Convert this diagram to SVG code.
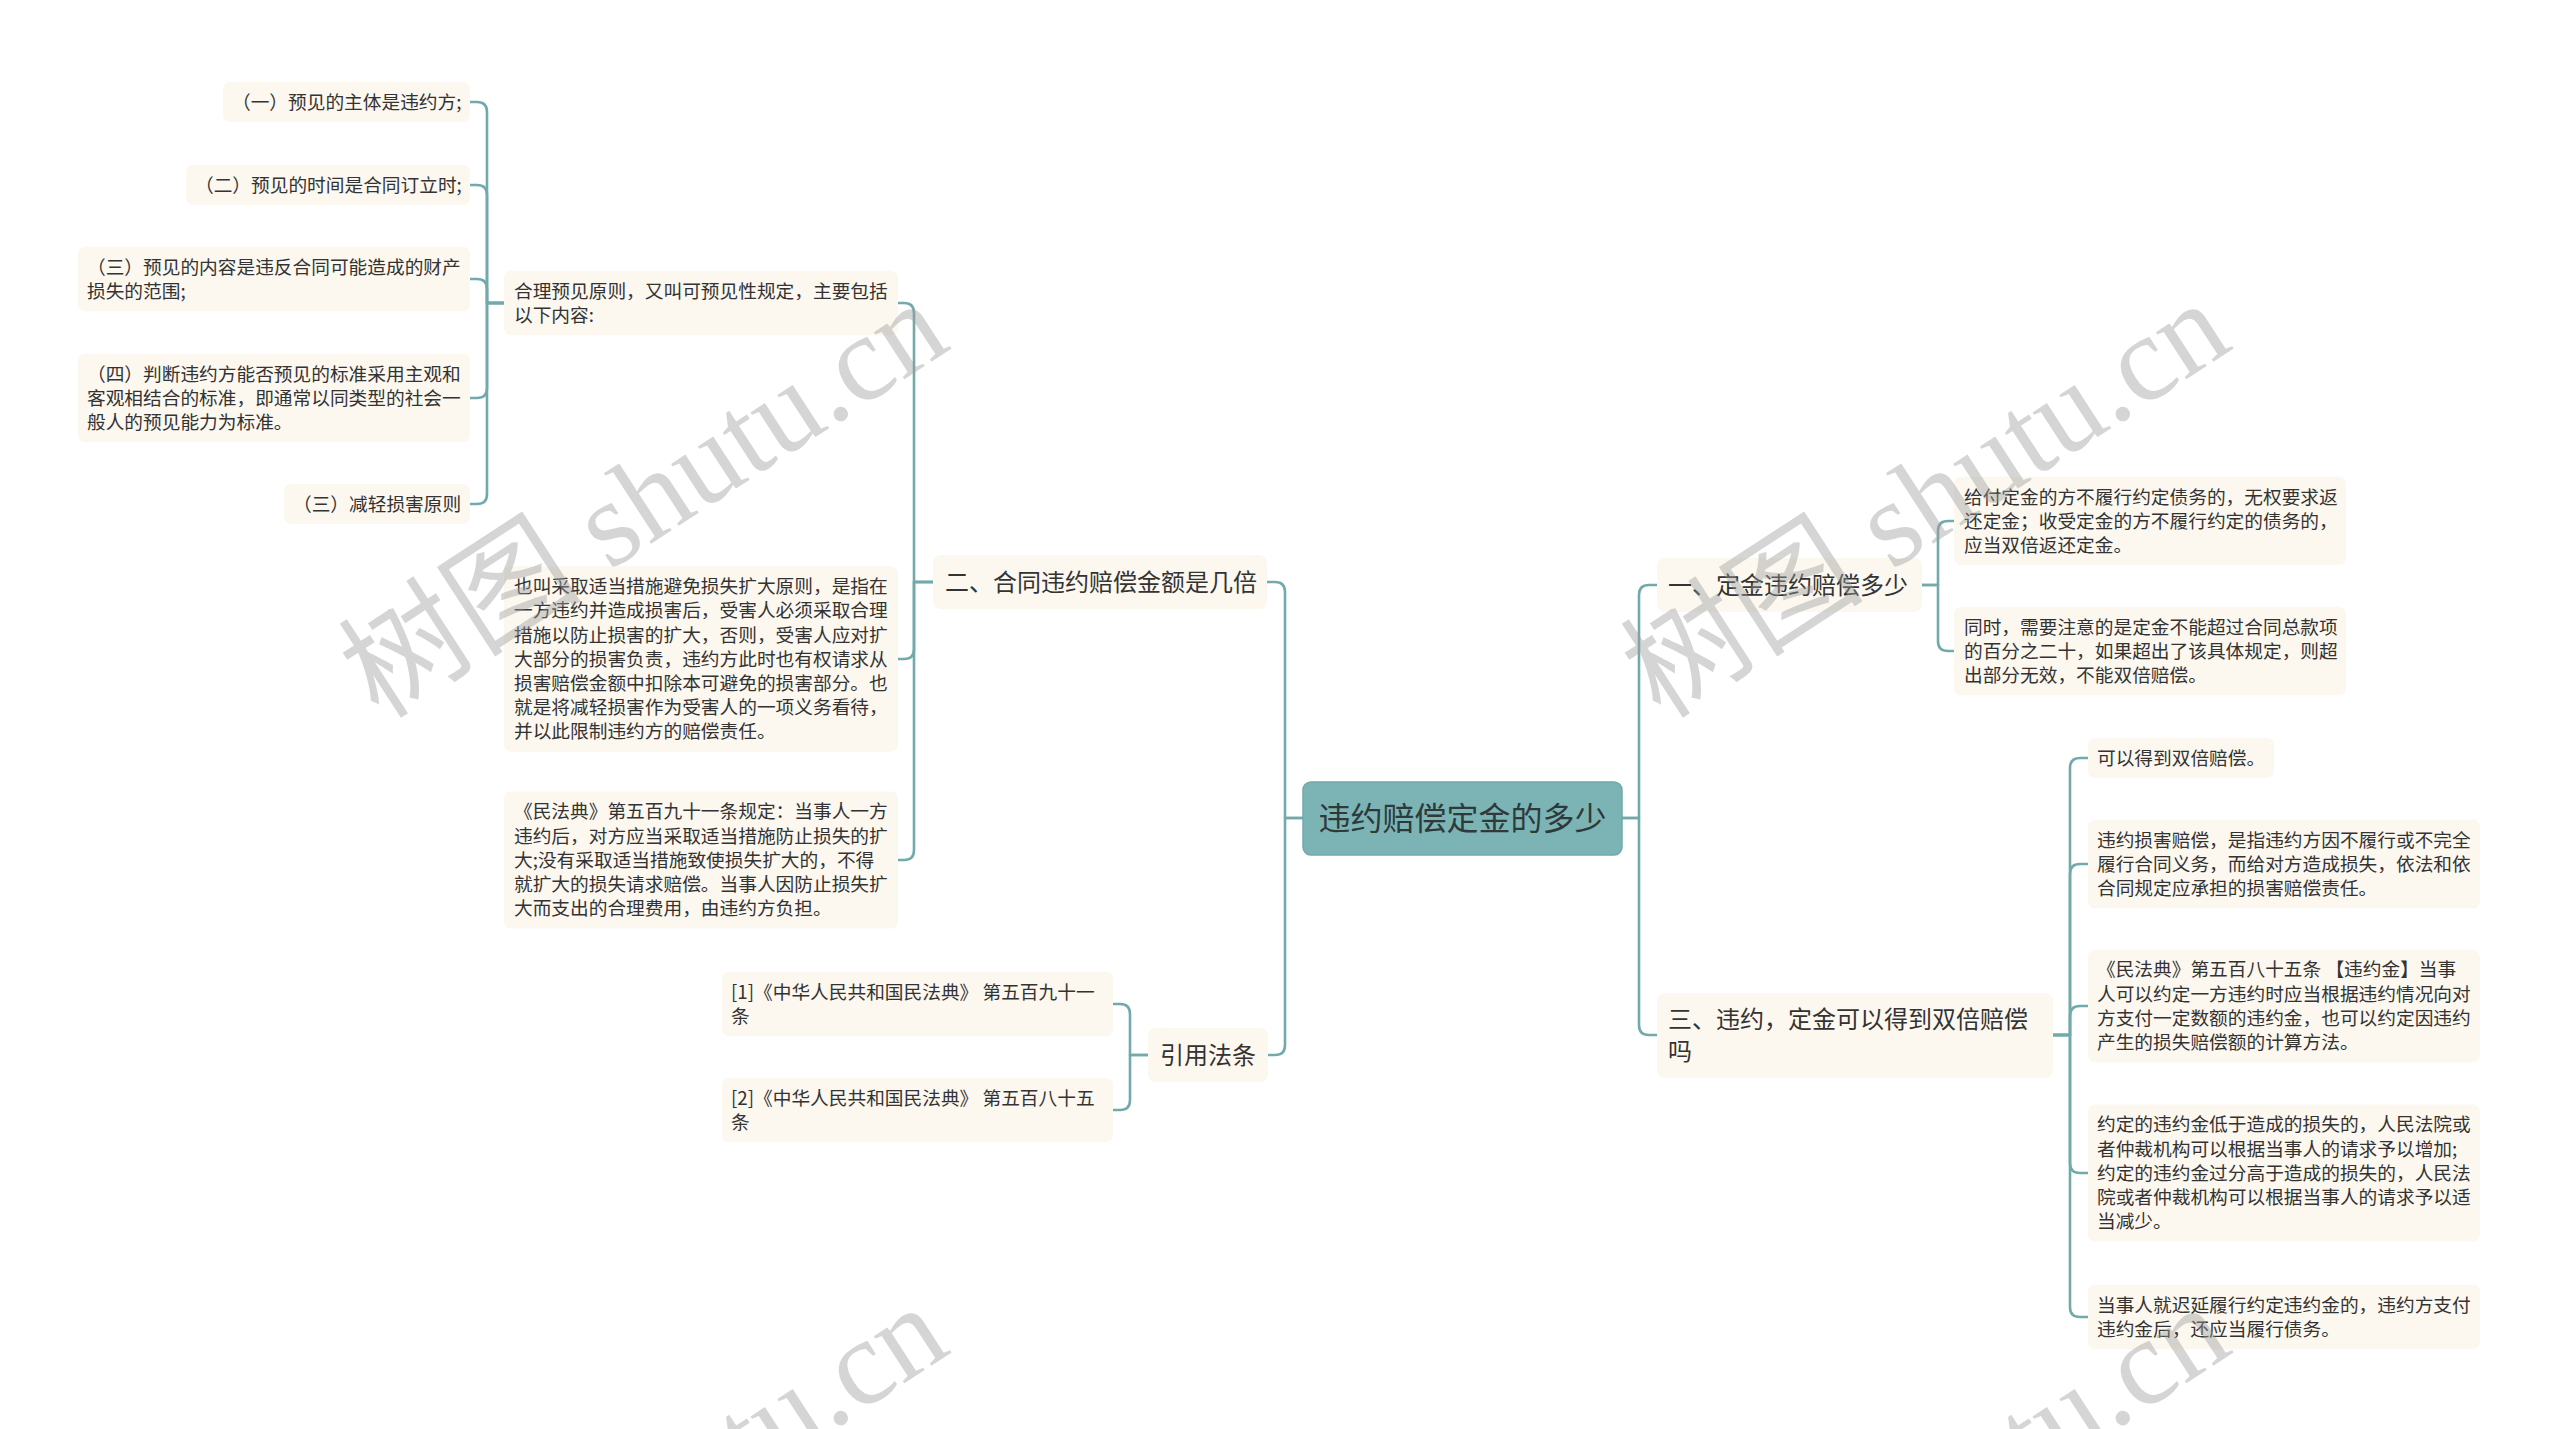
<svg xmlns="http://www.w3.org/2000/svg" width="2560" height="1429" viewBox="0 0 2560 1429">
<defs>
<style>
.bg{fill:#ffffff}
.box{fill:#fcf8ef}
.rootbox{fill:#7cb4b6;stroke:#6fa9ab;stroke-width:1.5}
.t{font-family:"Noto Sans CJK SC","Noto Sans",sans-serif;font-size:18.7px;fill:#333333}
.l1{font-family:"Noto Sans CJK SC","Noto Sans",sans-serif;font-size:24px;fill:#333333}
.rt{font-family:"Noto Sans CJK SC","Noto Sans",sans-serif;font-size:32px;fill:#2e3a3a}
.c{fill:none;stroke:#72aaac;stroke-width:2.6;stroke-linecap:round;stroke-linejoin:round}
.wm{font-family:"Liberation Serif","Noto Sans CJK SC",serif;font-size:122px;fill:#9a9a9a;fill-opacity:0.42}
</style>
</defs>
<rect class="bg" x="0" y="0" width="2560" height="1429"/>

<g id="connectors">
<path class="c" d="M1303,818 H1285 V592 Q1285,582 1275,582 H1267"/>
<path class="c" d="M1303,818 H1285 V1045 Q1285,1055 1275,1055 H1268"/>
<path class="c" d="M1622,818 H1639 V595 Q1639,585 1649,585 H1657"/>
<path class="c" d="M1622,818 H1639 V1025 Q1639,1035 1649,1035 H1657"/>
<path class="c" d="M933,582 H914 V313 Q914,303 904,303 H898"/>
<path class="c" d="M933,582 H914 V649 Q914,659 904,659 H898"/>
<path class="c" d="M933,582 H914 V850 Q914,860 904,860 H898"/>
<path class="c" d="M504,303 H487 V112 Q487,102 477,102 H470"/>
<path class="c" d="M504,303 H487 V195 Q487,185 477,185 H470"/>
<path class="c" d="M504,303 H487 V289 Q487,279 477,279 H470"/>
<path class="c" d="M504,303 H487 V388 Q487,398 477,398 H470"/>
<path class="c" d="M504,303 H487 V494 Q487,504 477,504 H470"/>
<path class="c" d="M1148,1055 H1130 V1014 Q1130,1004 1120,1004 H1113"/>
<path class="c" d="M1148,1055 H1130 V1100 Q1130,1110 1120,1110 H1113"/>
<path class="c" d="M1922,585 H1938 V531 Q1938,521 1948,521 H1954"/>
<path class="c" d="M1922,585 H1938 V641 Q1938,651 1948,651 H1954"/>
<path class="c" d="M2053,1035 H2070 V768 Q2070,758 2080,758 H2088"/>
<path class="c" d="M2053,1035 H2070 V874 Q2070,864 2080,864 H2088"/>
<path class="c" d="M2053,1035 H2070 V1016 Q2070,1006 2080,1006 H2088"/>
<path class="c" d="M2053,1035 H2070 V1163 Q2070,1173 2080,1173 H2088"/>
<path class="c" d="M2053,1035 H2070 V1307 Q2070,1317 2080,1317 H2088"/>
</g>

<g id="root">
<rect class="rootbox" x="1303" y="782" width="319" height="73" rx="8"/>
<text class="rt" x="1462.5" y="829.5" text-anchor="middle">违约赔偿定金的多少</text>
</g>

<g id="n-er">
<rect class="box" x="933" y="555" width="334" height="54" rx="8"/>
<text class="l1" x="945" y="590.6">二、合同违约赔偿金额是几倍</text>
</g>
<g id="n-yinyong">
<rect class="box" x="1148" y="1028" width="120" height="54" rx="8"/>
<text class="l1" x="1160" y="1063.6">引用法条</text>
</g>
<g id="n-yi">
<rect class="box" x="1657" y="558" width="265" height="54" rx="8"/>
<text class="l1" x="1668" y="593.6">一、定金违约赔偿多少</text>
</g>
<g id="n-san">
<rect class="box" x="1657" y="993" width="396" height="85" rx="8"/>
<text class="l1"><tspan x="1668" y="1028">三、违约，定金可以得到双倍赔偿</tspan><tspan x="1668" y="1060">吗</tspan></text>
</g>

<g id="n-a1">
<rect class="box" x="223" y="81.9" width="247" height="40.2" rx="7"/>
<text class="t" x="232" y="108.7">（一）预见的主体是违约方;</text>
</g>
<g id="n-a2">
<rect class="box" x="186" y="164.9" width="284" height="40.2" rx="7"/>
<text class="t" x="195" y="191.7">（二）预见的时间是合同订立时;</text>
</g>
<g id="n-a3">
<rect class="box" x="78" y="246.8" width="392" height="64.4" rx="7"/>
<text class="t"><tspan x="87" y="273.6">（三）预见的内容是违反合同可能造成的财产</tspan><tspan x="87" y="297.8">损失的范围;</tspan></text>
</g>
<g id="n-a4">
<rect class="box" x="78" y="353.7" width="392" height="88.6" rx="7"/>
<text class="t"><tspan x="87" y="380.5">（四）判断违约方能否预见的标准采用主观和</tspan><tspan x="87" y="404.7">客观相结合的标准，即通常以同类型的社会一</tspan><tspan x="87" y="428.9">般人的预见能力为标准。</tspan></text>
</g>
<g id="n-a5">
<rect class="box" x="284" y="483.9" width="186" height="40.2" rx="7"/>
<text class="t" x="293" y="510.7">（三）减轻损害原则</text>
</g>

<g id="n-b1">
<rect class="box" x="504" y="270.8" width="394" height="64.4" rx="7"/>
<text class="t"><tspan x="514" y="297.6">合理预见原则，又叫可预见性规定，主要包括</tspan><tspan x="514" y="321.8">以下内容:</tspan></text>
</g>
<g id="n-b2">
<rect class="box" x="504" y="566.3" width="394" height="185.4" rx="7"/>
<text class="t"><tspan x="514" y="593.1">也叫采取适当措施避免损失扩大原则，是指在</tspan><tspan x="514" y="617.3">一方违约并造成损害后，受害人必须采取合理</tspan><tspan x="514" y="641.5">措施以防止损害的扩大，否则，受害人应对扩</tspan><tspan x="514" y="665.7">大部分的损害负责，违约方此时也有权请求从</tspan><tspan x="514" y="689.9">损害赔偿金额中扣除本可避免的损害部分。也</tspan><tspan x="514" y="714.1">就是将减轻损害作为受害人的一项义务看待，</tspan><tspan x="514" y="738.3">并以此限制违约方的赔偿责任。</tspan></text>
</g>
<g id="n-b3">
<rect class="box" x="504" y="791.5" width="394" height="137" rx="7"/>
<text class="t"><tspan x="514" y="818.3">《民法典》第五百九十一条规定：当事人一方</tspan><tspan x="514" y="842.5">违约后，对方应当采取适当措施防止损失的扩</tspan><tspan x="514" y="866.7">大;没有采取适当措施致使损失扩大的，不得</tspan><tspan x="514" y="890.9">就扩大的损失请求赔偿。当事人因防止损失扩</tspan><tspan x="514" y="915.1">大而支出的合理费用，由违约方负担。</tspan></text>
</g>

<g id="n-c1">
<rect class="box" x="722" y="971.8" width="391" height="64.4" rx="7"/>
<text class="t"><tspan x="731" y="998.6">[1]《中华人民共和国民法典》 第五百九十一</tspan><tspan x="731" y="1022.8">条</tspan></text>
</g>
<g id="n-c2">
<rect class="box" x="722" y="1077.8" width="391" height="64.4" rx="7"/>
<text class="t"><tspan x="731" y="1104.6">[2]《中华人民共和国民法典》 第五百八十五</tspan><tspan x="731" y="1128.8">条</tspan></text>
</g>

<g id="n-e1">
<rect class="box" x="1954" y="476.7" width="392" height="88.6" rx="7"/>
<text class="t"><tspan x="1964" y="503.5">给付定金的方不履行约定债务的，无权要求返</tspan><tspan x="1964" y="527.7">还定金；收受定金的方不履行约定的债务的，</tspan><tspan x="1964" y="551.9">应当双倍返还定金。</tspan></text>
</g>
<g id="n-e2">
<rect class="box" x="1954" y="606.7" width="392" height="88.6" rx="7"/>
<text class="t"><tspan x="1964" y="633.5">同时，需要注意的是定金不能超过合同总款项</tspan><tspan x="1964" y="657.7">的百分之二十，如果超出了该具体规定，则超</tspan><tspan x="1964" y="681.9">出部分无效，不能双倍赔偿。</tspan></text>
</g>

<g id="n-f1">
<rect class="box" x="2088" y="737.9" width="186" height="40.2" rx="7"/>
<text class="t" x="2097" y="764.7">可以得到双倍赔偿。</text>
</g>
<g id="n-f2">
<rect class="box" x="2088" y="819.7" width="392" height="88.6" rx="7"/>
<text class="t"><tspan x="2097" y="846.5">违约损害赔偿，是指违约方因不履行或不完全</tspan><tspan x="2097" y="870.7">履行合同义务，而给对方造成损失，依法和依</tspan><tspan x="2097" y="894.9">合同规定应承担的损害赔偿责任。</tspan></text>
</g>
<g id="n-f3">
<rect class="box" x="2088" y="949.6" width="392" height="112.8" rx="7"/>
<text class="t"><tspan x="2097" y="976.4">《民法典》第五百八十五条 【违约金】当事</tspan><tspan x="2097" y="1000.6">人可以约定一方违约时应当根据违约情况向对</tspan><tspan x="2097" y="1024.8">方支付一定数额的违约金，也可以约定因违约</tspan><tspan x="2097" y="1049">产生的损失赔偿额的计算方法。</tspan></text>
</g>
<g id="n-f4">
<rect class="box" x="2088" y="1104.5" width="392" height="137" rx="7"/>
<text class="t"><tspan x="2097" y="1131.3">约定的违约金低于造成的损失的，人民法院或</tspan><tspan x="2097" y="1155.5">者仲裁机构可以根据当事人的请求予以增加;</tspan><tspan x="2097" y="1179.7">约定的违约金过分高于造成的损失的，人民法</tspan><tspan x="2097" y="1203.9">院或者仲裁机构可以根据当事人的请求予以适</tspan><tspan x="2097" y="1228.1">当减少。</tspan></text>
</g>
<g id="n-f5">
<rect class="box" x="2088" y="1284.8" width="392" height="64.4" rx="7"/>
<text class="t"><tspan x="2097" y="1311.6">当事人就迟延履行约定违约金的，违约方支付</tspan><tspan x="2097" y="1335.8">违约金后，还应当履行债务。</tspan></text>
</g>

<g id="watermarks">
<text class="wm" x="666" y="534" text-anchor="middle" transform="rotate(-33 666 534)">树图 shutu.cn</text>
<text class="wm" x="1948" y="534" text-anchor="middle" transform="rotate(-33 1948 534)">树图 shutu.cn</text>
<text class="wm" x="666" y="1538" text-anchor="middle" transform="rotate(-33 666 1538)">树图 shutu.cn</text>
<text class="wm" x="1948" y="1538" text-anchor="middle" transform="rotate(-33 1948 1538)">树图 shutu.cn</text>
</g>
</svg>
